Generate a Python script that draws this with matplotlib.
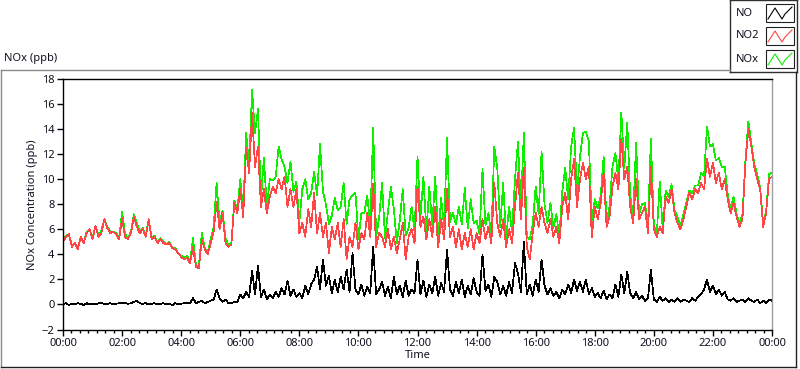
import numpy as np
import matplotlib.pyplot as plt
from matplotlib.lines import Line2D
from matplotlib.patches import Rectangle

plt.rcParams['font.family'] = ['Noto Sans', 'DejaVu Sans']

# readings every 6 minutes, 00:00 .. 24:00 (ppb)
no = [0.0, 0.1, -0.05, 0.05, 0.0, 0.1, 0.05, -0.05, 0.1, 0.0,
      0.05, 0.0, 0.1, 0.15, 0.0, 0.05, 0.1, 0.0, 0.05, 0.1,
      0.1, 0.15, 0.05, 0.1, 0.2, 0.3, 0.1, 0.05, 0.1, 0.0,
      0.05, 0.1, 0.0, 0.05, 0.1, 0.0, 0.05, -0.05, 0.1, 0.0,
      0.05, 0.1, 0.15, 0.1, 0.5, 0.1, 0.2, 0.3, 0.1, 0.2,
      0.3, 0.4, 1.2, 0.5, 0.2, 0.4, 0.1, 0.1, 0.2, 0.2,
      0.8, 0.5, 1.0, 0.6, 2.7, 0.8, 3.1, 0.6, 1.2, 0.4,
      0.8, 0.5, 1.0, 0.6, 1.3, 0.8, 1.9, 0.7, 1.2, 0.6,
      0.9, 0.5, 1.5, 0.8, 1.6, 2.0, 3.0, 1.2, 3.6, 1.5,
      2.3, 0.9, 2.0, 1.0, 2.2, 1.2, 2.8, 1.0, 4.1, 1.2,
      0.8, 1.6, 0.7, 1.4, 0.9, 4.6, 0.8, 1.2, 1.8, 0.7,
      1.4, 0.5, 2.2, 0.8, 1.5, 0.6, 1.9, 0.7, 1.2, 0.9,
      3.6, 0.8, 1.9, 0.6, 1.6, 0.9, 2.2, 0.7, 1.7, 1.0,
      4.4, 1.2, 0.7, 1.8, 0.9, 2.0, 0.6, 1.5, 0.8, 2.1,
      1.0, 0.7, 4.0, 1.1, 1.6, 0.6, 2.2, 1.8, 0.8, 1.5,
      0.7, 1.8, 0.9, 3.3, 2.5, 1.0, 5.0, 0.8, 1.6, 0.7,
      2.0, 1.0, 3.6, 1.5, 0.8, 1.3, 0.7, 1.0, 0.5, 1.2,
      0.8, 1.6, 0.9, 2.0, 1.1, 1.8, 1.0, 2.0, 0.8, 1.3,
      0.6, 0.9, 0.5, 1.1, 0.4, 0.8, 0.5, 1.6, 0.6, 2.4,
      0.9, 2.6, 0.9, 0.5, 1.0, 0.4, 0.7, 0.3, 0.5, 2.8,
      0.4, 0.2, 0.6, 0.3, 0.5, 0.2, 0.4, 0.2, 0.5, 0.2,
      0.4, 0.3, 0.2, 0.5, 0.3, 0.6, 0.8, 1.2, 2.0, 1.0,
      1.5, 0.8, 1.2, 0.7, 1.0, 0.4, 0.3, 0.5, 0.2, 0.3,
      0.4, 0.2, 0.5, 0.3, 0.2, 0.4, 0.1, 0.3, 0.1, 0.4,
      0.3]

no2 = [5.0, 5.4, 5.6, 4.6, 4.9, 4.4, 5.4, 4.9, 5.7, 6.0,
       5.2, 6.3, 5.4, 5.7, 6.8, 6.1, 5.7, 5.8, 5.6, 5.2,
       6.9, 5.4, 5.2, 5.7, 7.0, 6.2, 5.7, 6.0, 5.4, 6.8,
       5.2, 5.4, 4.9, 5.2, 4.9, 4.8, 4.9, 4.5, 4.4, 4.1,
       3.8, 3.6, 3.7, 3.3, 4.6, 3.0, 2.9, 5.2, 4.4, 4.0,
       4.9, 5.8, 8.2, 6.0, 7.3, 4.9, 4.6, 4.8, 8.1, 7.3,
       9.2, 7.0, 12.5, 10.5, 15.3, 11.0, 12.6, 7.8, 9.2, 7.3,
       8.6, 9.4, 8.9, 10.0, 9.2, 10.2, 7.8, 9.2, 7.8, 9.2,
       5.7, 6.5, 5.4, 7.6, 6.2, 8.9, 5.7, 7.3, 5.4, 6.5,
       4.1, 6.2, 5.2, 6.5, 4.6, 6.8, 3.6, 5.4, 4.6, 6.5,
       4.4, 5.7, 5.2, 7.3, 5.4, 9.6, 4.6, 5.7, 5.4, 4.6,
       6.0, 4.4, 5.4, 4.1, 5.2, 6.5, 3.6, 5.4, 6.0, 4.9,
       9.4, 6.2, 7.0, 5.2, 6.8, 5.4, 7.8, 4.6, 6.8, 5.2,
       9.2, 5.4, 6.2, 4.6, 6.0, 4.4, 5.7, 4.6, 6.0, 4.4,
       5.7, 4.9, 6.8, 5.2, 6.2, 4.9, 9.7, 6.5, 5.4, 6.8,
       4.6, 6.0, 4.9, 7.8, 10.5, 6.8, 10.9, 4.6, 3.6, 5.7,
       7.3, 6.2, 7.8, 6.5, 5.7, 6.8, 5.4, 6.2, 4.9, 7.8,
       8.9, 6.8, 10.0, 11.6, 7.8, 10.0, 11.3, 10.0, 11.0, 5.4,
       7.8, 6.8, 8.1, 10.5, 6.2, 7.0, 9.4, 10.5, 9.2, 13.2,
       10.0, 11.0, 7.8, 6.5, 10.0, 6.8, 7.3, 7.8, 5.7, 11.0,
       6.0, 5.4, 6.2, 5.7, 8.6, 8.1, 9.2, 7.3, 6.5, 6.0,
       6.8, 7.8, 8.9, 8.4, 9.2, 8.9, 9.7, 9.2, 11.6, 10.2,
       11.3, 9.7, 10.5, 9.2, 10.0, 8.4, 7.3, 8.1, 7.0, 6.2,
       6.8, 11.3, 14.0, 12.6, 11.0, 10.0, 9.2, 6.2, 7.3, 10.0,
       10.2]

nox = [5.0, 5.5, 5.6, 4.7, 4.9, 4.5, 5.4, 4.9, 5.8, 6.0,
       5.3, 6.3, 5.5, 5.9, 6.8, 6.2, 5.8, 5.8, 5.7, 5.3,
       7.4, 5.6, 5.3, 5.8, 7.2, 6.5, 5.8, 6.1, 5.5, 6.8,
       5.3, 5.5, 4.9, 5.3, 5.0, 4.8, 5.0, 4.5, 4.5, 4.1,
       3.9, 3.7, 3.9, 3.4, 5.3, 3.1, 3.1, 5.7, 4.5, 4.2,
       5.2, 6.2, 9.7, 6.5, 7.5, 5.3, 4.7, 4.9, 8.3, 7.5,
       10.0, 7.5, 13.7, 11.1, 17.1, 13.7, 15.6, 8.4, 11.7, 7.7,
       10.0, 9.9, 10.2, 12.6, 11.6, 11.0, 9.7, 11.4, 9.0, 9.8,
       6.6, 9.2, 10.0, 8.4, 8.9, 10.6, 8.7, 12.8, 9.0, 8.0,
       6.4, 7.1, 8.5, 7.5, 7.8, 9.7, 6.4, 8.4, 8.7, 8.9,
       5.2, 7.3, 7.3, 8.7, 6.3, 14.1, 5.4, 6.9, 9.7, 5.3,
       7.4, 9.4, 7.6, 4.9, 6.7, 9.2, 5.5, 6.1, 7.8, 5.8,
       11.8, 7.0, 10.2, 5.8, 9.4, 6.3, 10.2, 5.3, 8.5, 6.2,
       13.3, 6.6, 7.3, 6.4, 7.8, 6.4, 9.3, 6.1, 8.4, 6.5,
       6.7, 5.6, 10.8, 6.3, 7.3, 5.5, 12.6, 10.9, 6.2, 9.7,
       5.3, 7.8, 5.8, 10.0, 13.0, 7.8, 13.7, 5.4, 5.2, 6.4,
       9.4, 7.2, 12.2, 8.0, 6.5, 8.1, 6.1, 7.2, 5.4, 9.0,
       10.9, 8.4, 12.6, 14.1, 8.9, 11.8, 13.7, 13.8, 13.0, 6.7,
       8.4, 7.7, 8.6, 11.8, 6.6, 7.8, 11.0, 12.1, 9.8, 15.3,
       10.9, 14.5, 8.7, 7.0, 12.9, 7.2, 8.0, 8.1, 6.2, 13.2,
       6.4, 5.6, 9.8, 6.0, 9.1, 8.6, 9.6, 7.5, 7.0, 6.2,
       7.2, 8.1, 9.1, 8.9, 9.5, 9.5, 10.5, 10.2, 14.2, 12.6,
       12.8, 11.5, 11.7, 11.0, 11.0, 8.8, 7.6, 8.6, 7.2, 6.5,
       7.2, 11.5, 14.6, 12.9, 11.2, 10.4, 9.3, 6.5, 7.4, 10.4,
       10.5]

time_labels = ['00:00', '02:00', '04:00', '06:00', '08:00', '10:00', '12:00',
               '14:00', '16:00', '18:00', '20:00', '22:00', '00:00']

hours = np.arange(len(no2)) * 0.1

W, H = 800, 369
txt = '#101020'


def fx(x):
    return x / W


def fy(y):
    return 1 - y / H


fig = plt.figure(figsize=(W / 100, H / 100), dpi=100)
fig.patch.set_facecolor('white')

ax = fig.add_axes([fx(63), fy(329.5), (772 - 63) / W, (329.5 - 79) / H])
ax.plot(hours, nox, color='#10ee00', lw=0.5, antialiased=False)
ax.plot(hours, no2, color='#ff4545', lw=0.5, antialiased=False)
ax.plot(hours, no, color='black', lw=0.5, antialiased=False)

ax.set_xlim(0, 24)
ax.set_ylim(-2, 18)
ax.set_yticks(range(-2, 19, 2))
ax.set_xticks(range(0, 25, 2))
ax.set_xticklabels(time_labels)
ax.set_xticks(np.linspace(0, 24, 85), minor=True)
ax.tick_params(axis='both', which='major', labelsize=8, length=4, width=1,
               colors='black', labelcolor=txt, pad=2)
ax.tick_params(axis='x', which='minor', length=2, width=1, colors='black')
for s in ['left', 'bottom', 'top']:
    ax.spines[s].set_color('black')
    ax.spines[s].set_linewidth(1)
ax.spines['right'].set_color('#a0a0a0')
ax.spines['right'].set_linewidth(1)

ax.set_ylabel('NOx Concentration (ppb)', fontsize=8, color=txt, labelpad=3)
ax.set_xlabel('Time', fontsize=8, color=txt, labelpad=1)

fig.text(fx(4), fy(58), 'NOx (ppb)', fontsize=8, color=txt, va='center', ha='left')

# outer frame of the graph
gray = '#8a8a8a'
fig.add_artist(Line2D([fx(0.5), fx(730)], [fy(69.5), fy(69.5)], color=gray, lw=1))
fig.add_artist(Line2D([fx(0.5), fx(0.5)], [fy(69.5), fy(366.5)], color=gray, lw=1))
fig.add_artist(Line2D([fx(0.5), fx(796)], [fy(366.5), fy(366.5)], color='#202020', lw=1))
fig.add_artist(Line2D([fx(795.5), fx(795.5)], [fy(72), fy(366.5)], color='#202020', lw=1))

# legend box
lg = fig.add_axes([fx(730), fy(72), 67 / W, 72 / H])
lg.set_xlim(0, 67)
lg.set_ylim(72, 0)
lg.set_xticks([])
lg.set_yticks([])
for s in lg.spines.values():
    s.set_color('#303030')
    s.set_linewidth(1)
names = ['NO', 'NO2', 'NOx']
colors = ['black', '#ff4545', '#10ee00']
rows = [13, 36, 59]
for name, c, yc in zip(names, colors, rows):
    lg.text(6, yc, name, fontsize=8, color=txt, va='center', ha='left')
    lg.add_patch(Rectangle((36, yc - 9), 28, 18, fill=False, ec='#202020', lw=0.8))
    lg.plot([38, 45, 52, 55, 62], [yc + 6, yc - 5, yc + 6, yc + 1, yc - 6], color=c, lw=0.8)

fig.savefig('out.png', dpi=100)
